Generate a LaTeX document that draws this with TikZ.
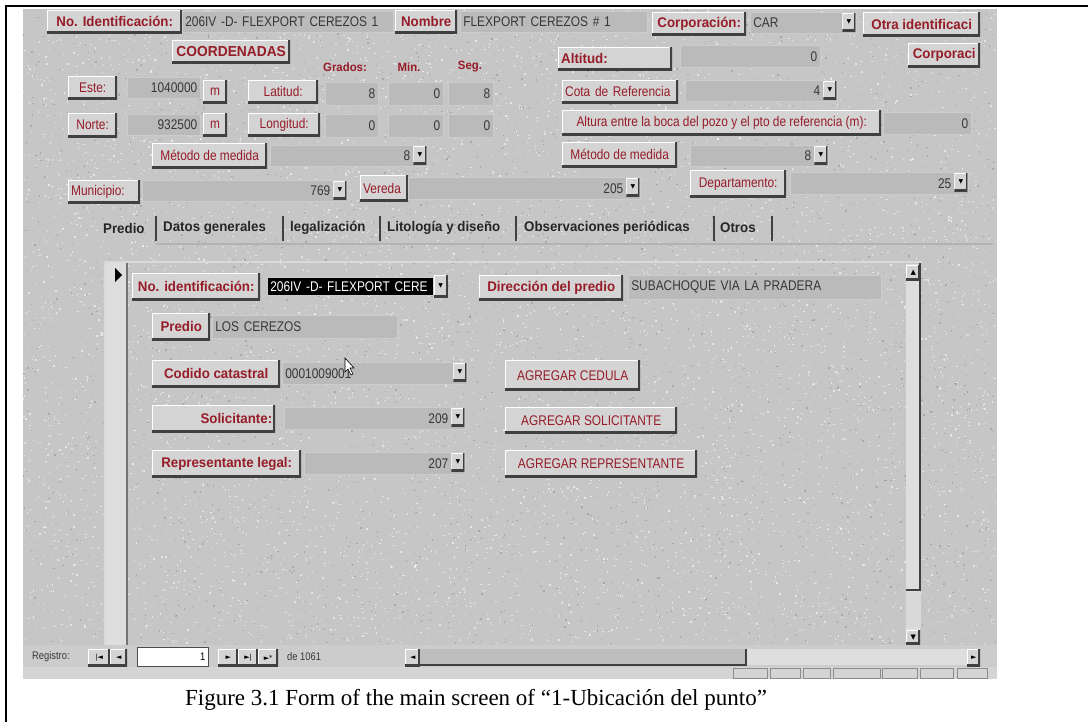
\documentclass[tikz,border=0pt]{standalone}
\usepackage{fontspec}
\setmainfont{Liberation Serif}
\newfontfamily\uifont[FakeStretch=0.85]{Liberation Sans}
\newfontfamily\uibf[FakeStretch=0.95]{Liberation Sans}
\newfontfamily\symfont{DejaVu Sans}
\usetikzlibrary{calc}

\definecolor{scrgrey}{RGB}{198,198,198}
\definecolor{btnface}{RGB}{212,212,212}
\definecolor{fldface}{RGB}{186,186,186}
\definecolor{lblred}{RGB}{150,28,40}
\definecolor{valgrey}{RGB}{55,55,55}
\definecolor{trackgrey}{RGB}{222,222,222}

\newcommand\uisize{\fontsize{14}{14}\selectfont}

\begin{document}
\begin{tikzpicture}[x=1pt,y=-1pt,
  bevel/.style={path picture={
    \draw[white,line width=2pt] (path picture bounding box.south west) -- (path picture bounding box.north west) -- (path picture bounding box.north east);
    \draw[black!75,line width=3.5pt] (path picture bounding box.south west) -- (path picture bounding box.south east) -- (path picture bounding box.north east);}},
  btn/.style={anchor=north west,inner sep=0pt,fill=btnface,text=lblred,font=\uifont\uisize,bevel},
  bbtn/.style={btn,font=\uibf\bfseries\uisize},
  fld/.style={anchor=north west,inner xsep=3pt,inner ysep=0pt,fill=fldface,draw=white!80!black,line width=.6pt,text=valgrey,font=\uifont\uisize,align=left},
  nfld/.style={fld,align=right},
  cfld/.style={nfld,execute at end node=\hspace*{14pt}},
  arrbox/.style={anchor=north east,inner sep=0pt,fill=btnface,draw=none,minimum width=13,minimum height=18,font=\symfont\fontsize{6}{6}\selectfont,text=black,bevel},
  gms/.style={inner sep=0pt,text=lblred,font=\uibf\bfseries\fontsize{12}{12}\selectfont},
  tab/.style={anchor=west,inner sep=0pt,font=\uibf\bfseries\uisize,text=black!85},
  navtxt/.style={anchor=west,inner sep=0pt,text=valgrey,font=\uifont\fontsize{11}{11}\selectfont},
  navbtn/.style={anchor=north west,inner sep=0pt,fill=btnface,font=\symfont\fontsize{7}{7}\selectfont,minimum height=17,bevel}]

\useasboundingbox (0,0) rectangle (1088,722);
\draw[line width=2pt] (6,722) -- (6,6) -- (1088,6);

% screen background with speckles
\fill[scrgrey] (23,9) rectangle (997,679);
\pgfmathsetseed{7}
\foreach \i in {1,...,7000}
  \fill[white,opacity=.55] ({23+972*rnd},{9+634*rnd}) rectangle ++(1.3,1.3);
\foreach \i in {1,...,2500}
  \fill[black,opacity=.15] ({23+972*rnd},{9+634*rnd}) rectangle ++(1.3,1.3);

% first row
\node[bbtn,minimum width=135,minimum height=23] (noid) at (47,10) {No. Identificación:};
\node[fld,text width=205pt,minimum height=21] (noidv) at (182,11) {206IV -D- FLEXPORT CEREZOS 1};
\node[bbtn,minimum width=62,minimum height=23] (nombre) at (395,10) {Nombre};
\node[fld,text width=181pt,minimum height=21] (nombrev) at (460,11) {FLEXPORT CEREZOS \# 1};
\node[bbtn,minimum width=94,minimum height=23] (corp) at (652,12) {Corporación:};
\node[fld,text width=100pt,minimum height=21] (corpv) at (750,12) {CAR};
\node[arrbox] (corparr) at ($(corpv.north east)+(-1,1)$) {▼};
\node[bbtn,minimum width=117,minimum height=24] (otra) at (863,12) {Otra identificaci};

% coordinates
\node[bbtn,font=\uibf\bfseries\fontsize{14.5}{14.5}\selectfont,minimum width=118,minimum height=23] (coord) at (172,40) {COORDENADAS};
\node[bbtn,text width=108pt,inner xsep=3pt,align=left,minimum height=23] (altitud) at (558,47) {Altitud:};
\node[nfld,text width=134pt,minimum height=22] (altitudv) at (680,45) {0};
\node[bbtn,minimum width=72,minimum height=24] (corpo) at (908,43) {Corporaci};
\node[gms] (grados) at (345,67) {Grados:};
\node[gms] (minutos) at (409,67) {Min.};
\node[gms] (segundos) at (470,67) {Seg.};

\node[btn,minimum width=49,minimum height=23] (este) at (68,76) {Este:};
\node[nfld,text width=67pt,minimum height=21] (estev) at (127,77) {1040000};
\node[btn,minimum width=24,minimum height=23] (meste) at (203,80) {m};
\node[btn,minimum width=70,minimum height=23] (lat) at (248,80) {Latitud:};
\node[nfld,text width=47pt,minimum height=23] (latg) at (325,82) {8};
\node[nfld,text width=49pt,minimum height=23] (latm) at (388,82) {0};
\node[nfld,text width=39pt,minimum height=23] (lats) at (448,82) {8};
\node[btn,text width=110pt,inner xsep=3pt,align=left,minimum height=23] (cota) at (562,80) {Cota de Referencia};
\node[cfld,text width=146pt,minimum height=21] (cotav) at (685,80) {4};
\node[arrbox] (cotaarr) at ($(cotav.north east)+(-1,1)$) {▼};

\node[btn,minimum width=49,minimum height=24] (norte) at (68,113) {Norte:};
\node[nfld,text width=67pt,minimum height=21] (nortev) at (127,114) {932500};
\node[btn,minimum width=24,minimum height=23] (mnorte) at (203,113) {m};
\node[btn,minimum width=72,minimum height=23] (lon) at (248,113) {Longitud:};
\node[nfld,text width=47pt,minimum height=23] (long) at (325,114) {0};
\node[nfld,text width=49pt,minimum height=23] (lonm) at (388,114) {0};
\node[nfld,text width=39pt,minimum height=23] (lons) at (448,114) {0};
\node[btn,minimum width=319,minimum height=25] (altura) at (562,110) {Altura entre la boca del pozo y el pto de referencia (m):};
\node[nfld,text width=82pt,minimum height=22] (alturav) at (883,112) {0};

\node[btn,minimum width=115,minimum height=25] (metodo) at (152,143) {Método de medida};
\node[cfld,text width=151pt,minimum height=21] (metodov) at (270,145) {8};
\node[arrbox] (metodoarr) at ($(metodov.north east)+(-1,1)$) {▼};
\node[btn,minimum width=115,minimum height=25] (metodob) at (562,142) {Método de medida};
\node[cfld,text width=132pt,minimum height=21] (metodobv) at (690,145) {8};
\node[arrbox] (metodobarr) at ($(metodobv.north east)+(-1,1)$) {▼};

\node[btn,text width=66pt,inner xsep=3pt,align=left,minimum height=23] (muni) at (68,180) {Municipio:};
\node[cfld,text width=199pt,minimum height=21] (muniv) at (142,180) {769};
\node[arrbox] (muniarr) at ($(muniv.north east)+(-1,1)$) {▼};
\node[btn,text width=42pt,inner xsep=3pt,align=left,minimum height=26] (vereda) at (360,175) {Vereda};
\node[cfld,text width=226pt,minimum height=22] (veredav) at (408,177) {205};
\node[arrbox] (veredaarr) at ($(veredav.north east)+(-1,1)$) {▼};
\node[btn,minimum width=96,minimum height=27] (depto) at (690,170) {Departamento:};
\node[cfld,text width=172pt,minimum height=22] (deptov) at (790,172) {25};
\node[arrbox] (deptoarr) at ($(deptov.north east)+(-1,1)$) {▼};

% tabs
\node[tab] (tpredio) at (103,228) {Predio};
\node[tab] (tdatos) at (163,228) {Datos generales};
\node[tab] (tlegal) at (290,228) {legalización};
\node[tab] (tlito) at (387,228) {Litología y diseño};
\node[tab] (tobs) at (524,228) {Observaciones periódicas};
\node[tab] (totros) at (720,228) {Otros};
\foreach \sx in {156,283,380,516,714,772}
  \draw[black!75,line width=1.2pt] (\sx,216) -- (\sx,241);
\draw[white!70!black,line width=1.2pt] (156,244) -- (993,244);

% subform
\fill[black!13] (105,262) rectangle (127,645);
\draw[white!85!black,line width=1.5pt] (105,645) -- (105,262) -- (922,262);
\draw[black!55,line width=1.2pt] (127,263) -- (127,645);
\fill[black] (115,268) -- (122,275) -- (115,282) -- cycle;

\node[bbtn,minimum width=128,minimum height=27] (sid) at (132,273) {No. identificación:};
\node[fld,fill=black,text=white,text width=160pt,minimum height=18] (sidv) at (267,277) {206IV -D- FLEXPORT CERE};
\node[arrbox,anchor=north west,minimum width=14,minimum height=22] (sidarr) at ($(sidv.north east)+(0,-2)$) {▼};
\node[bbtn,minimum width=144,minimum height=25] (dir) at (479,275) {Dirección del predio};
\node[fld,text width=247pt,minimum height=24] (dirv) at (628,275) {SUBACHOQUE VIA LA PRADERA};
\node[bbtn,minimum width=58,minimum height=27] (pred) at (152,313) {Predio};
\node[fld,text width=179pt,minimum height=23] (predv) at (212,315) {LOS CEREZOS};
\node[bbtn,minimum width=128,minimum height=27] (cat) at (152,360) {Codido catastral};
\node[fld,text width=179pt,minimum height=22] (catv) at (282,362) {0001009001};
\node[arrbox] (catarr) at ($(catv.north east)+(-1,1)$) {▼};
\node[btn,minimum width=135,minimum height=30] (agced) at (505,360) {AGREGAR CEDULA};
\node[bbtn,text width=117pt,inner xsep=3pt,align=right,minimum height=27] (sol) at (152,405) {Solicitante:};
\node[cfld,text width=175pt,minimum height=22] (solv) at (284,407) {209};
\node[arrbox] (solarr) at ($(solv.north east)+(-1,1)$) {▼};
\node[btn,minimum width=172,minimum height=26] (agsol) at (505,407) {AGREGAR SOLICITANTE};
\node[bbtn,minimum width=149,minimum height=27] (rep) at (152,450) {Representante legal:};
\node[cfld,text width=155pt,minimum height=22] (repv) at (304,452) {207};
\node[arrbox] (reparr) at ($(repv.north east)+(-1,1)$) {▼};
\node[btn,minimum width=192,minimum height=27] (agrep) at (505,450) {AGREGAR REPRESENTANTE};
\draw[black,fill=white,line width=.6pt] (345,358) -- (345,372) -- (348,369) -- (351,375) -- (353,374) -- (350,368) -- (354,368) -- cycle;

% vertical scroll bar
\fill[trackgrey] (906,264) rectangle (920,630);
\draw[black!75,line width=1.5pt] (920,263) -- (920,590) -- (906,590);
\node[navbtn,minimum width=14,minimum height=15] (vup) at (906,265) {▲};
\fill[white!85!black] (906,592) rectangle (921,628);
\node[navbtn,minimum width=14,minimum height=14] (vdown) at (906,630) {▼};

% record navigation
\fill[black!20] (23,645) rectangle (997,667);
\node[navtxt] (regtxt) at (32,657) {Registro:};
\node[navbtn,minimum width=22] (navfirst) at (88,649) {|◄};
\node[navbtn,minimum width=17] (navprev) at (110,649) {◄};
\node[anchor=north west,fill=white,draw=black!70,inner xsep=3pt,inner ysep=0pt,text width=65pt,align=right,minimum height=19,font=\uifont\fontsize{11}{11}\selectfont] (recno) at (137,647) {1};
\node[navbtn,minimum width=20] (navnext) at (218,649) {►};
\node[navbtn,minimum width=20] (navlast) at (238,649) {►|};
\node[navbtn,minimum width=20] (navnew) at (258,649) {►*};
\node[navtxt] (rectot) at (287,657) {de 1061};

\node[navbtn,minimum width=15] (hleft) at (405,649) {◄};
\fill[black!26] (420,649) rectangle (746,665);
\draw[black!75,line width=1.5pt] (420,665) -- (746,665) -- (746,649);
\fill[trackgrey] (747,649) rectangle (967,665);
\node[navbtn,minimum width=13] (hright) at (967,649) {►};

% status bar
\fill[black!17] (23,667) rectangle (997,679);
\foreach \a/\b in {733/767,770/800,803/830,833/880,882/917,920/953,957/987}
  \draw[black!45] (\a,668) rectangle (\b,678);

\node[font=\fontsize{23}{27}\selectfont] (caption) at (476,700) {Figure 3.1 Form of the main screen of “1-Ubicación del punto”};
\end{tikzpicture}
\end{document}
